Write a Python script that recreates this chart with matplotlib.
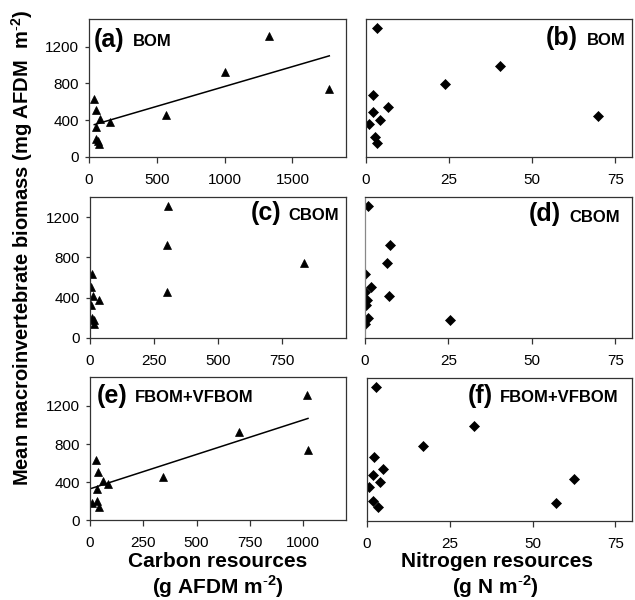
import matplotlib.pyplot as plt
import numpy as np

plt.rcParams['font.family'] = ['Liberation Sans', 'DejaVu Sans']
plt.rcParams['mathtext.fontset'] = 'custom'
plt.rcParams['mathtext.rm'] = 'Liberation Sans'
plt.rcParams['mathtext.bf'] = 'Liberation Sans:bold'

# mean macroinvertebrate biomass per site (same for every panel)
biomass = [1310, 928, 740, 632, 510, 452, 414, 378, 330, 200, 178, 138]

# carbon resources (g AFDM m-2)
carbon_bom = [1324, 1002, 1772, 39, 49, 565, 84, 157, 49, 49, 64, 76]
carbon_cbom = [307, 300, 837, 9, 3, 300, 13, 35, 3, 9, 16, 16]
carbon_fbom = [1017, 700, 1023, 27, 39, 342, 62, 83, 34, 34, 8, 42]

# nitrogen resources (g N m-2)
nitro_bom = [3.5, 40.2, 23.7, 2.1, 6.6, 2.1, 69.7, 4.3, 0.9, 2.8, 82.4, 3.5]
nitro_cbom = [0.8, 7.4, 6.7, 0.0, 1.7, 0.1, 7.3, 0.5, 0.2, 0.8, 25.4, 0.0]
nitro_fbom = [2.7, 32.5, 16.9, 2.1, 4.9, 1.8, 62.5, 3.9, 0.6, 1.8, 57.0, 3.4]

# trendlines (slope, intercept)
trend_bom = (0.4315, 335)
trend_fbom = (0.722, 330)

W, H = 635, 600
fig = plt.figure(figsize=(W / 100, H / 100), dpi=100)


def px_axes(left, top, right, bottom):
    return fig.add_axes([left / W, 1 - bottom / H, (right - left) / W, (bottom - top) / H])


def style(ax, xlim, ylim, xticks, yticks, show_y):
    ax.set_xlim(*xlim)
    ax.set_ylim(*ylim)
    ax.set_xticks(xticks)
    ax.set_yticks(yticks)
    for s in ax.spines.values():
        s.set_color('#333333')
        s.set_linewidth(0.9)
    ax.tick_params(axis='x', direction='out', length=4, width=0.9, pad=7.5,
                   labelsize=11, color='#333333')
    if show_y:
        ax.tick_params(axis='y', direction='out', length=3, width=0.9, pad=4,
                       labelsize=11, color='#333333')
    else:
        ax.tick_params(axis='y', left=False, labelleft=False)


def panel_label(letter, name, x_letter, x_name, base):
    fig.text(x_letter / W, 1 - base / H, letter, fontsize=18, fontweight='bold',
             va='baseline', ha='left')
    fig.text(x_name / W, 1 - base / H, name, fontsize=12, fontweight='bold',
             va='baseline', ha='left')


tri = dict(marker='^', linestyle='none', color='black', markersize=6, mew=0.5)
dia = dict(marker='D', linestyle='none', color='black', markersize=4.6, mew=0.5)

# (a)
ax = px_axes(89, 19, 345.7, 157)
ax.plot(carbon_bom, biomass, **tri)
xs = np.array([min(carbon_bom), max(carbon_bom)])
ax.plot(xs, trend_bom[0] * xs + trend_bom[1], color='black', lw=1.1)
style(ax, (0, 1893), (0, 1500), [0, 500, 1000, 1500], [0, 400, 800, 1200], True)
panel_label('(a)', 'BOM', 94, 133, 46.5)

# (b)
ax = px_axes(365.7, 19, 632, 157)
ax.plot(nitro_bom, biomass, **dia)
style(ax, (0, 80), (0, 1400), [0, 25, 50, 75], [0, 400, 800, 1200], False)
panel_label('(b)', 'BOM', 546, 586.5, 45)

# (c)
ax = px_axes(90, 197.3, 345.7, 337.7)
ax.plot(carbon_cbom, biomass, **tri)
style(ax, (0, 1000), (0, 1400), [0, 250, 500, 750], [0, 400, 800, 1200], True)
panel_label('(c)', 'CBOM', 250.5, 288.5, 220)

# (d)
ax = px_axes(365, 197.3, 632, 337.7)
ax.plot(nitro_cbom, biomass, **dia)
style(ax, (0, 80), (0, 1400), [0, 25, 50, 75], [0, 400, 800, 1200], False)
ax.spines['left'].set_color('#888888')
panel_label('(d)', 'CBOM', 529, 569, 221.5)

# (e)
ax = px_axes(90, 377.3, 345.7, 520.3)
ax.plot(carbon_fbom, biomass, **tri)
xs = np.array([min(carbon_fbom), max(carbon_fbom)])
ax.plot(xs, trend_fbom[0] * xs + trend_fbom[1], color='black', lw=1.1)
style(ax, (0, 1200), (0, 1500), [0, 250, 500, 750, 1000], [0, 400, 800, 1200], True)
panel_label('(e)', 'FBOM+VFBOM', 97, 135, 402.5)

# (f)
ax = px_axes(366.7, 378.3, 632, 521)
ax.plot(nitro_fbom, biomass, **dia)
style(ax, (0, 80), (0, 1400), [0, 25, 50, 75], [0, 400, 800, 1200], False)
panel_label('(f)', 'FBOM+VFBOM', 467.5, 500, 402.5)

# shared axis titles (small raised "-2" like the original)
sup = r'$^{\mathbf{\text{-}2}}$'
fig.text(22 / W, 1 - 248 / H, 'Mean macroinvertebrate biomass (mg AFDM  m' + sup + ')',
         rotation=90, ha='center', va='center', fontsize=14.5, fontweight='bold')
fig.text(218 / W, 1 - 561.7 / H, 'Carbon resources', ha='center', va='center',
         fontsize=15, fontweight='bold')
fig.text(218 / W, 1 - 586.7 / H, '(g AFDM m' + sup + ')', ha='center', va='center',
         fontsize=15, fontweight='bold')
fig.text(497 / W, 1 - 561.7 / H, 'Nitrogen resources', ha='center', va='center',
         fontsize=15, fontweight='bold')
fig.text(495 / W, 1 - 586.7 / H, '(g N m' + sup + ')', ha='center', va='center',
         fontsize=15, fontweight='bold')

fig.savefig('out.png', dpi=100)
